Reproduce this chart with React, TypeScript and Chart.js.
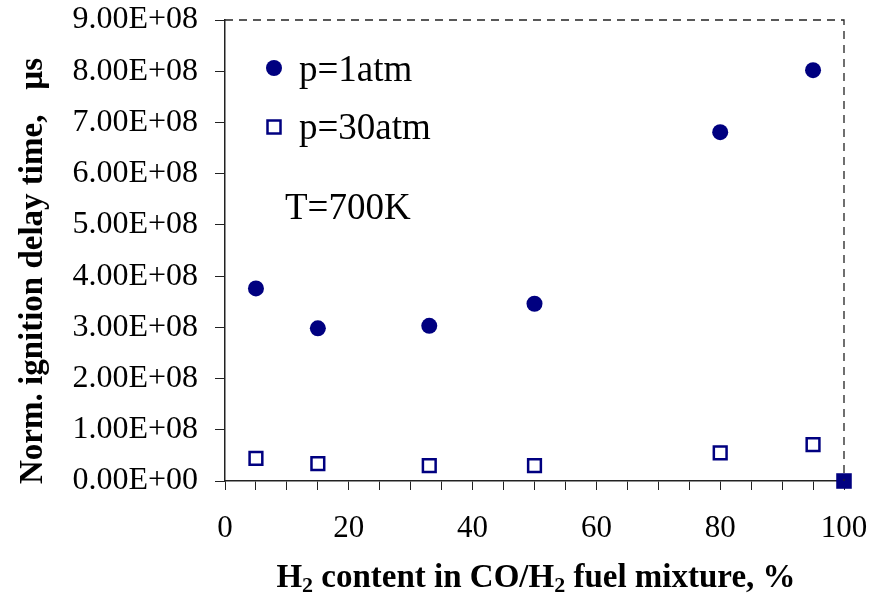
import React, { useEffect, useRef } from "react";
import { Chart, registerables } from "chart.js";

Chart.register(...registerables);

const h2Content1 = [5, 15, 33, 50, 80, 95];
const delay1atm = [3.76e8, 2.98e8, 3.03e8, 3.46e8, 6.81e8, 8.02e8];
const h2Content30 = [5, 15, 33, 50, 80, 95];
const delay30atm = [4.4e7, 3.4e7, 3.0e7, 3.0e7, 5.5e7, 7.1e7];
const h2ContentPure = [100];
const delayPure = [0];
const legendLabels = ["p=1atm", "p=30atm"];
const noteText = "T=700K";

const NAVY = "#000080";
const SERIF = "'Liberation Serif', 'Times New Roman', serif";

function fmtSci(v: number): string {
  if (v === 0) return "0.00E+00";
  const e = Math.floor(Math.log10(Math.abs(v)) + 1e-9);
  const m = v / Math.pow(10, e);
  const es = (e < 0 ? "-" : "+") + String(Math.abs(e)).padStart(2, "0");
  return m.toFixed(2) + "E" + es;
}

type Run = { t: string; sub?: boolean };

function drawRuns(ctx: CanvasRenderingContext2D, runs: Run[], cx: number, cy: number, size: number) {
  const big = `bold ${size}px ${SERIF}`;
  const small = `bold ${Math.round(size * 0.68)}px ${SERIF}`;
  let total = 0;
  const widths = runs.map((r) => {
    ctx.font = r.sub ? small : big;
    const w = ctx.measureText(r.t).width;
    total += w;
    return w;
  });
  let x = cx - total / 2;
  ctx.textBaseline = "alphabetic";
  ctx.textAlign = "left";
  runs.forEach((r, i) => {
    ctx.font = r.sub ? small : big;
    ctx.fillText(r.t, x, r.sub ? cy + size * 0.16 : cy);
    x += widths[i];
  });
}

const decorPlugin = {
  id: "decor",
  afterDraw(chart: any) {
    const ctx: CanvasRenderingContext2D = chart.ctx;
    const { left, right, top, bottom } = chart.chartArea;
    ctx.save();
    // dashed top/right border
    ctx.strokeStyle = "#222";
    ctx.lineWidth = 1.3;
    ctx.setLineDash([8, 6]);
    ctx.beginPath();
    ctx.moveTo(left, top);
    ctx.lineTo(right, top);
    ctx.lineTo(right, bottom);
    ctx.stroke();
    ctx.setLineDash([]);

    // legend
    ctx.fillStyle = NAVY;
    ctx.beginPath();
    ctx.arc(274, 68, 8, 0, Math.PI * 2);
    ctx.fill();
    ctx.strokeStyle = NAVY;
    ctx.lineWidth = 2.5;
    ctx.strokeRect(267.5, 120.5, 13, 13);

    ctx.fillStyle = "#000";
    ctx.font = `37px ${SERIF}`;
    ctx.textAlign = "left";
    ctx.textBaseline = "alphabetic";
    ctx.fillText(legendLabels[0], 299, 81);
    ctx.fillText(legendLabels[1], 299, 139);
    ctx.fillText(noteText, 285, 219);

    // x title
    ctx.fillStyle = "#000";
    drawRuns(
      ctx,
      [
        { t: "H" },
        { t: "2", sub: true },
        { t: " content in CO/H" },
        { t: "2", sub: true },
        { t: " fuel mixture, %" },
      ],
      536,
      587,
      33
    );

    // y title
    ctx.save();
    ctx.translate(42, 271);
    ctx.rotate(-Math.PI / 2);
    ctx.font = `bold 33px ${SERIF}`;
    ctx.textAlign = "center";
    ctx.textBaseline = "alphabetic";
    ctx.fillText("Norm. ignition delay time,   \u00b5s", 0, 0);
    ctx.restore();

    ctx.restore();
  },
};

export default function App() {
  const ref = useRef<HTMLCanvasElement>(null);
  useEffect(() => {
    if (!ref.current) return;
    const chart = new Chart(ref.current, {
      type: "scatter",
      data: {
        datasets: [
          {
            label: legendLabels[0],
            data: h2Content1.map((x, i) => ({ x, y: delay1atm[i] })),
            pointStyle: "circle",
            pointRadius: 8,
            backgroundColor: NAVY,
            borderColor: NAVY,
            borderWidth: 0,
          },
          {
            label: legendLabels[1],
            data: h2Content30.map((x, i) => ({ x, y: delay30atm[i] })),
            pointStyle: "rect",
            pointRadius: 9,
            backgroundColor: "#fff",
            borderColor: NAVY,
            borderWidth: 2.5,
          },
          {
            label: "pure",
            data: h2ContentPure.map((x, i) => ({ x, y: delayPure[i] })),
            pointStyle: "rect",
            pointRadius: 11,
            backgroundColor: NAVY,
            borderColor: NAVY,
            borderWidth: 0,
            clip: false,
          } as any,
        ],
      },
      options: {
        animation: false,
        responsive: false,
        layout: { padding: { top: 20, right: 40, left: 0, bottom: 0 } },
        plugins: { legend: { display: false }, tooltip: { enabled: false } },
        scales: {
          x: {
            type: "linear",
            min: 0,
            max: 100,
            ticks: {
              stepSize: 5,
              autoSkip: false,
              maxRotation: 0,
              padding: 20,
              color: "#000",
              font: { family: SERIF, size: 31 },
              callback: (v: any) => (Number(v) % 20 === 0 ? String(v) : ""),
            },
            grid: { drawOnChartArea: false, drawTicks: true, tickLength: 9, color: "#222", lineWidth: 1 },
            border: { display: true, color: "#222", width: 1.5 },
            afterFit: (s: any) => {
              s.height = 112;
              s.paddingLeft = 0;
              s.paddingRight = 0;
            },
          },
          y: {
            type: "linear",
            min: 0,
            max: 9e8,
            ticks: {
              stepSize: 1e8,
              padding: 17,
              color: "#000",
              font: { family: SERIF, size: 32 },
              callback: (v: any) => fmtSci(Number(v)),
            },
            grid: { drawOnChartArea: false, drawTicks: true, tickLength: 10, color: "#222", lineWidth: 1 },
            border: { display: true, color: "#222", width: 1.5 },
            afterFit: (s: any) => {
              s.width = 225;
              s.paddingTop = 0;
              s.paddingBottom = 0;
            },
          },
        },
      },
      plugins: [decorPlugin],
    });
    return () => chart.destroy();
  }, []);
  return (
    <div style={{ position: "fixed", left: 0, top: 0, width: 884, height: 593, background: "#fff" }}>
      <canvas ref={ref} width={884} height={593} style={{ width: 884, height: 593 }} />
    </div>
  );
}
